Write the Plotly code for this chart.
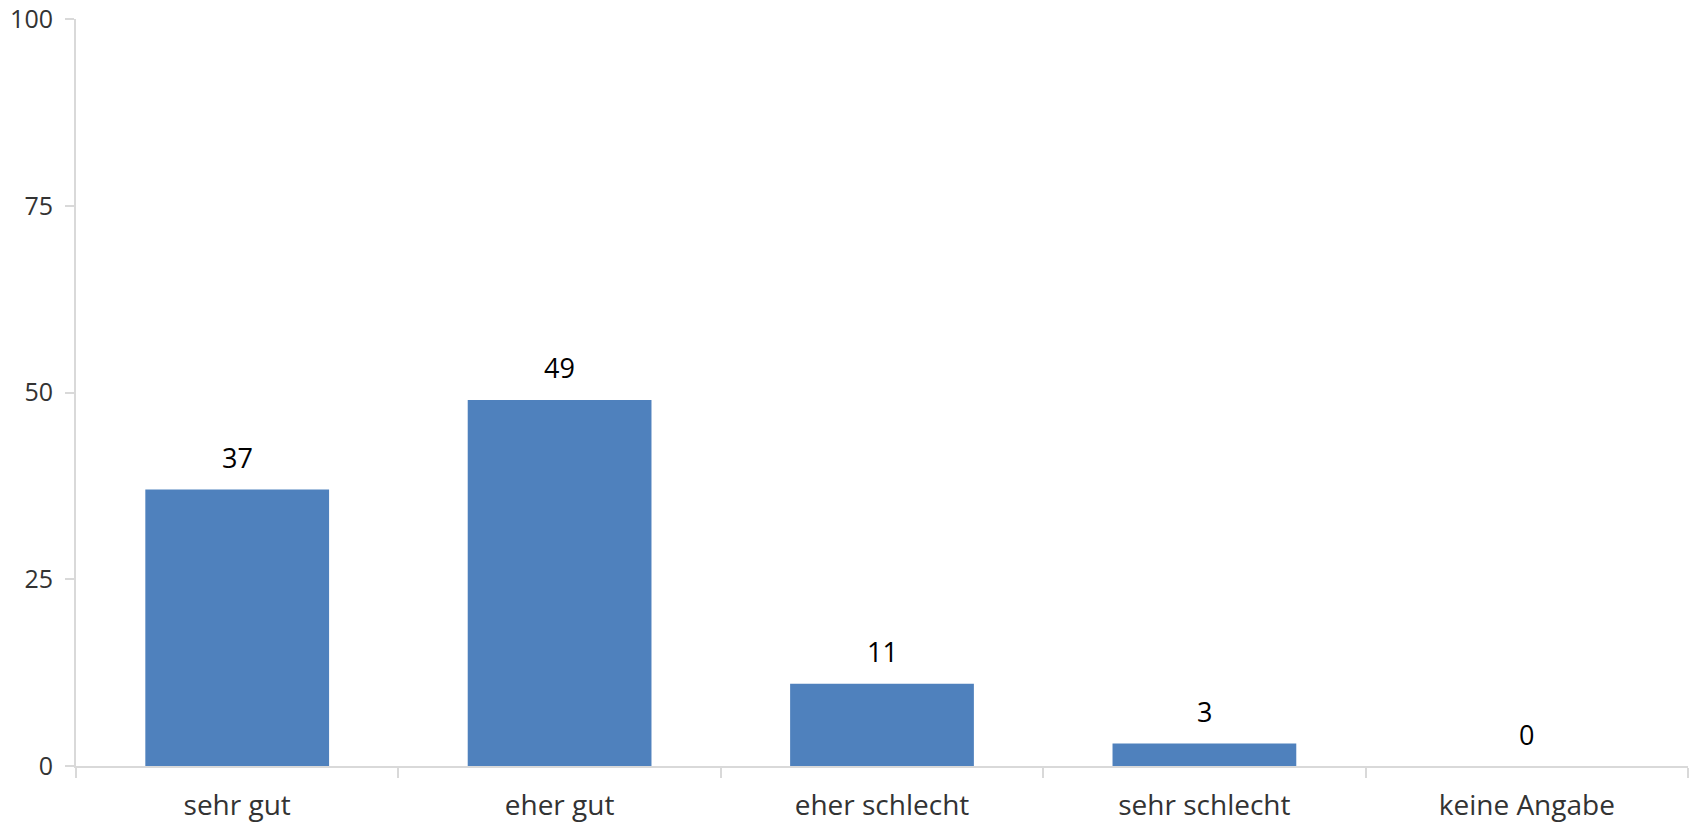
import plotly.graph_objects as go

categories = ["sehr gut", "eher gut", "eher schlecht", "sehr schlecht", "keine Angabe"]
values = [37, 49, 11, 3, 0]
y_ticks = [0, 25, 50, 75, 100]

FONT = "Open Sans"

fig = go.Figure()
fig.add_trace(go.Bar(
    x=categories,
    y=values,
    marker=dict(color="#4f81bd", line=dict(width=0)),
    width=0.57,
    hoverinfo="skip",
))

for c, v in zip(categories, values):
    fig.add_annotation(
        x=c, y=v, text=str(v), showarrow=False,
        yanchor="middle", yshift=32,
        font=dict(family=FONT, size=27, color="#000000"),
    )

fig.update_layout(
    width=1694, height=825,
    margin=dict(l=76, r=6, t=19, b=59),
    plot_bgcolor="white", paper_bgcolor="white",
    showlegend=False,
    font=dict(family=FONT, size=24, color="#333333"),
)
fig.update_xaxes(
    type="category",
    showline=True, linecolor="#d9d9d9", linewidth=2,
    ticks="outside", ticklen=10, tickcolor="#d9d9d9", tickwidth=2,
    tickson="boundaries",
    showgrid=False, zeroline=False,
    ticklabelstandoff=13,
    automargin=False,
    tickfont=dict(family=FONT, size=28, color="#333333"),
)
fig.update_yaxes(
    range=[0, 100], tickvals=y_ticks,
    showline=True, linecolor="#d9d9d9", linewidth=2,
    ticks="outside", ticklen=9, tickcolor="#d9d9d9", tickwidth=2,
    showgrid=False, zeroline=False,
    ticklabelstandoff=7,
    automargin=False,
    tickfont=dict(family=FONT, size=25, color="#333333"),
)

fig.write_html("out.html")
